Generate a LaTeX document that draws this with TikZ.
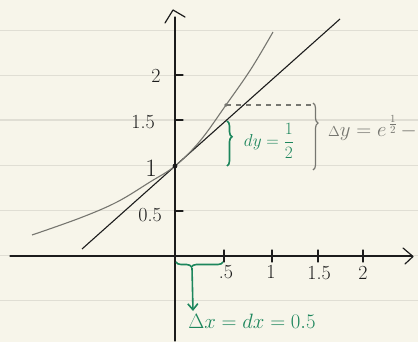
\documentclass[tikz,border=0pt]{standalone}
\usetikzlibrary{decorations.pathreplacing,arrows.meta}
\definecolor{paper}{RGB}{247,245,234}
\definecolor{ruling}{RGB}{224,222,212}
\definecolor{ink}{RGB}{28,28,28}
\definecolor{pencil}{RGB}{118,118,112}
\definecolor{grn}{RGB}{28,134,92}
\begin{document}
\begin{tikzpicture}[x=1pt,y=-1pt,
  rulingline/.style={ruling,line width=1.6pt},
  axisline/.style={ink,line width=1.2pt,line cap=round,line join=round},
  tickmark/.style={ink,line width=1.3pt,line cap=round},
  tangentline/.style={ink,line width=1.1pt},
  curveline/.style={pencil,line width=1.1pt},
  lbl/.style={ink,font=\fontsize{20}{20}\selectfont,inner sep=0pt},
  grnbrace/.style={grn,line width=1.6pt,decorate},
  grnlbl/.style={grn,inner sep=0pt}]
\fill[paper] (0,0) rectangle (418,342);
\useasboundingbox (0,0) rectangle (418,342);
% ruled paper
\foreach \yy in {30.5,75.5,120,165.5,210.5,255.5,300.5}
  \draw[rulingline] (0,\yy) -- (418,\yy);
% axes
\coordinate (xs) at (10,256);
\coordinate (xe) at (412,256);
\coordinate (ys) at (175,341);
\coordinate (ye) at (175,17);
\draw[axisline] (xs) -- (xe);
\draw[axisline] (403,248) -- (413,256.5) -- (405,264);
\draw[axisline] (ys) -- (ye);
\draw[axisline] (165,23) -- (173,10) -- (185,17);
% ticks
\foreach \yy in {75,120,211} \draw[tickmark] (175,\yy) -- (183,\yy);
\foreach \xx in {224,272,318,363} \draw[tickmark] (\xx,250) -- (\xx,262);
% labels
\node[lbl] (l2y) at (156,76) {2};
\node[lbl] (l15y) at (143,122) {1.5};
\node[lbl,font=\fontsize{25}{25}\selectfont] (l1y) at (151,168) {1};
\node[lbl] (l05y) at (150,215) {0.5};
\node[lbl] (l05x) at (226,272) {.5};
\node[lbl] (l1x) at (271,272) {1};
\node[lbl] (l15x) at (319,273) {1.5};
\node[lbl] (l2x) at (363,273) {2};
% tangent line y = 1 + x
\coordinate (ta) at (82,249);
\coordinate (tb) at (340,19);
\draw[tangentline] (ta) -- (tb);
% curve y = e^x
\draw[curveline] plot[smooth,tension=0.6] coordinates
  {(32,235) (80,218) (117,202) (150,182) (175,166) (200,141) (226,105) (251,69) (273,32)};
% point (0,1)
\fill[ink] (175,166) circle (2.4pt);
% point (0.5, e^0.5)
\coordinate (pe) at (226,105);
\coordinate (pd) at (311,105);
\fill[pencil] (pe) circle (1.8pt);
\draw[pencil,line width=1.1pt,dash pattern=on 5pt off 5pt] (pe) -- (pd);
% Delta y brace
\draw[pencil,line width=1.2pt,decorate,decoration={brace,amplitude=5pt,aspect=0.3}]
  (313,103) -- (313,170);
\node[pencil,inner sep=0pt,anchor=east,font=\fontsize{21}{21}\selectfont] (Dylab) at (417,128)
  {$\scriptstyle\Delta\displaystyle y = e^{\,\frac{1}{2}}\,{-}$};
% dy brace
\draw[grnbrace,decoration={brace,amplitude=5pt,aspect=0.35}] (227,121) -- (227,166);
\node[grnlbl,font=\fontsize{19}{19}\selectfont\bfseries] (dylab) at (269,141)
  {$dy = \displaystyle\frac{1}{2}$};
% dx brace and arrow
\draw[grnbrace,decoration={brace,amplitude=5pt,aspect=0.67}] (223,262) -- (176,262);
\coordinate (ar0) at (192,268);
\coordinate (ar1) at (193,311);
\draw[grn,line width=1.6pt,-{Straight Barb[length=6pt,width=10pt]}] (ar0) -- (ar1);
\node[grnlbl,font=\fontsize{22}{22}\selectfont] (dxlab) at (252,321)
  {$\Delta x = dx = 0.5$};
\end{tikzpicture}
\end{document}
